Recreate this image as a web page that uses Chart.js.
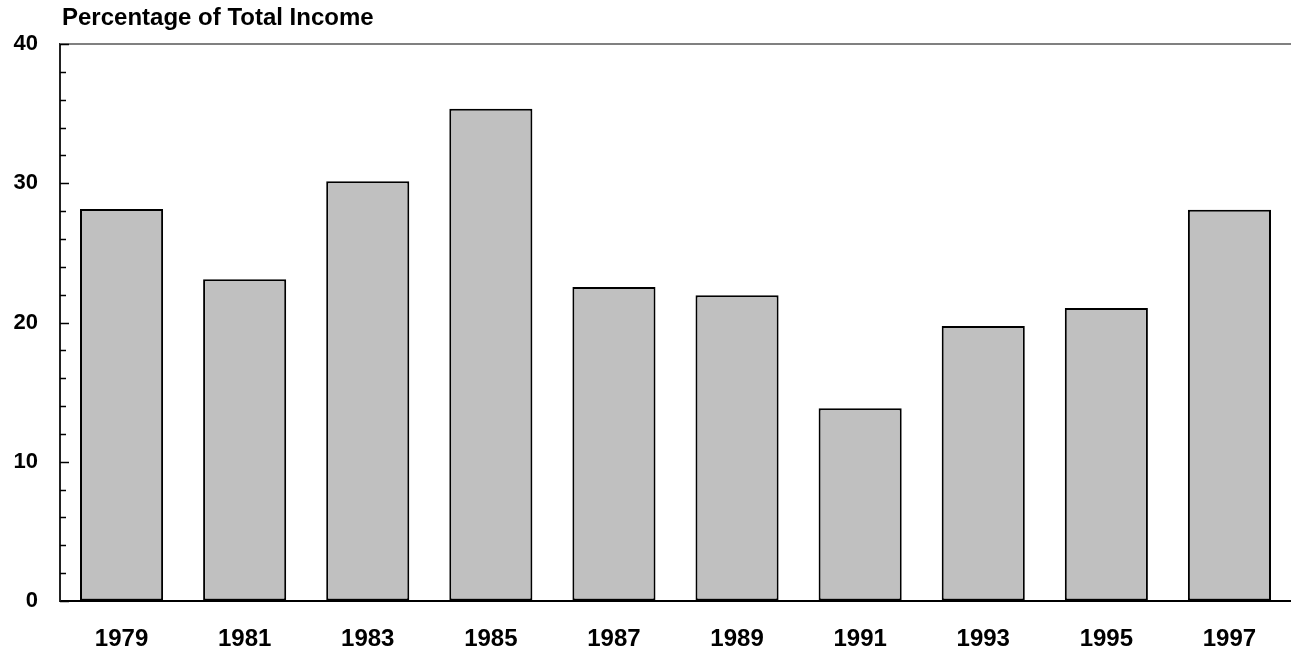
<!DOCTYPE html>
<html>
<head>
<meta charset="utf-8">
<script src="https://cdn.jsdelivr.net/npm/chart.js@4.4.0/dist/chart.umd.min.js"></script>
<style>
  html, body { margin: 0; padding: 0; background: #fff; }
  #wrap { width: 1291px; height: 651px; }
</style>
</head>
<body>
<div id="wrap"><canvas id="incomeChart" width="1291" height="651"></canvas></div>
<script>
// data
const years = ['1979', '1981', '1983', '1985', '1987', '1989', '1991', '1993', '1995', '1997'];
const shares = [28.15, 23.1, 30.15, 35.35, 22.55, 21.95, 13.85, 19.75, 21.05, 28.1];
const yTicks = [0, 10, 20, 30, 40];
const minorStep = 2;

// title + inward tick marks + gray top line
const decorations = {
  id: 'decorations',
  afterDraw(chart) {
    const ctx = chart.ctx;
    const y = chart.scales.y;
    const area = chart.chartArea;
    ctx.save();
    // gray line at top of scale
    ctx.strokeStyle = '#808080';
    ctx.lineWidth = 2;
    ctx.beginPath();
    ctx.moveTo(area.left, y.getPixelForValue(40));
    ctx.lineTo(chart.width, y.getPixelForValue(40));
    ctx.stroke();
    // tick marks pointing inward
    ctx.strokeStyle = '#000';
    ctx.lineWidth = 1.5;
    for (let v = 0; v <= 40; v += minorStep) {
      const py = Math.round(y.getPixelForValue(v)) + 0.5;
      const len = (v % 10 === 0) ? 9 : 6;
      ctx.beginPath();
      ctx.moveTo(area.left, py);
      ctx.lineTo(area.left + len, py);
      ctx.stroke();
    }
    // title
    ctx.fillStyle = '#000';
    ctx.font = 'bold 24px "Liberation Sans", Arial, sans-serif';
    ctx.textBaseline = 'alphabetic';
    ctx.textAlign = 'left';
    ctx.fillText('Percentage of Total Income', 62, 25);
    ctx.restore();
  }
};

const ctx = document.getElementById('incomeChart').getContext('2d');
const incomeChart = new Chart(ctx, {
  type: 'bar',
  data: {
    labels: years,
    datasets: [{
      label: 'Percentage of Total Income',
      data: shares,
      backgroundColor: '#c0c0c0',
      borderColor: '#000000',
      borderWidth: 2,
      borderSkipped: false,
      categoryPercentage: 0.675,
      barPercentage: 1.0
    }]
  },
  options: {
    responsive: false,
    animation: false,
    layout: { padding: { top: 44, right: 0, left: 0, bottom: 0 } },
    plugins: {
      legend: { display: false },
      title: { display: false },
      tooltip: { enabled: false }
    },
    scales: {
      x: {
        grid: { display: false, drawTicks: false },
        border: { display: true, color: '#000', width: 2 },
        ticks: {
          color: '#000',
          padding: 24,
          font: { family: '"Liberation Sans", Arial, sans-serif', size: 24, weight: 'bold' }
        },
        afterFit(scale) { scale.height = 50; }
      },
      y: {
        min: 0,
        max: 40,
        afterBuildTicks(scale) { scale.ticks = yTicks.map(v => ({ value: v })); },
        grid: { drawOnChartArea: false, drawTicks: false },
        border: { display: true, color: '#222', width: 2 },
        ticks: {
          color: '#000',
          padding: 22,
          font: { family: '"Liberation Sans", Arial, sans-serif', size: 22, weight: 'bold' }
        },
        afterFit(scale) { scale.width = 60; }
      }
    }
  },
  plugins: [decorations]
});
</script>
</body>
</html>
